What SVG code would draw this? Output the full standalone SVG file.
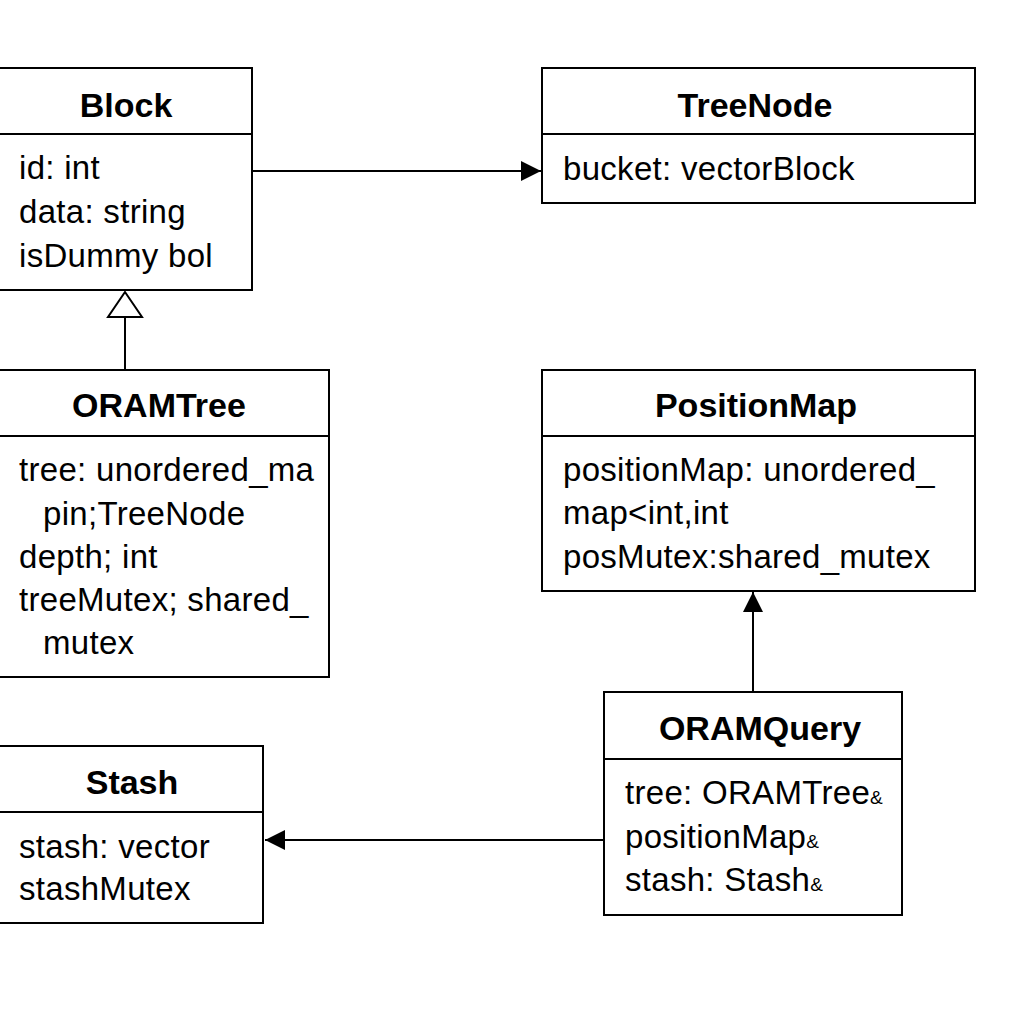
<svg xmlns="http://www.w3.org/2000/svg" width="1024" height="1024" viewBox="0 0 1024 1024">
<style>
.box{fill:#fff;stroke:#000;stroke-width:2}
.div{stroke:#000;stroke-width:2}
.title{font-family:"Liberation Sans",Arial,sans-serif;font-weight:bold;font-size:34px;text-anchor:middle;fill:#000}
.attr{font-family:"Liberation Sans",Arial,sans-serif;font-size:33px;letter-spacing:0.3px;fill:#000}
.amp{font-size:19px;letter-spacing:0}
.line{stroke:#000;stroke-width:2;fill:none}
</style>
<defs>
<marker id="filled" markerWidth="20" markerHeight="20" refX="20" refY="10" orient="auto" markerUnits="userSpaceOnUse">
<path d="M0,0 L20,10 L0,20 Z" fill="#000"/>
</marker>
</defs>
<rect width="1024" height="1024" fill="#fff"/>
<g id="connectors">
<line class="line" x1="253" y1="171" x2="541" y2="171" marker-end="url(#filled)"/>
<line class="line" x1="125" y1="370" x2="125" y2="317"/>
<path d="M125,292 L142,317 L108,317 Z" fill="#fff" stroke="#000" stroke-width="2"/>
<line class="line" x1="753" y1="691" x2="753" y2="592" marker-end="url(#filled)"/>
<line class="line" x1="604" y1="840" x2="265" y2="840" marker-end="url(#filled)"/>
</g>
<g id="Block">
<rect class="box" x="-2" y="68" width="254" height="222"/>
<line class="div" x1="-2" y1="134" x2="252" y2="134"/>
<text class="title" x="126" y="117">Block</text>
<text class="attr" x="19" y="179">id: int</text>
<text class="attr" x="19" y="223">data: string</text>
<text class="attr" x="19" y="267">isDummy bol</text>
</g>
<g id="TreeNode">
<rect class="box" x="542" y="68" width="433" height="135"/>
<line class="div" x1="542" y1="134" x2="975" y2="134"/>
<text class="title" x="755" y="117">TreeNode</text>
<text class="attr" x="563" y="180">bucket: vectorBlock</text>
</g>
<g id="ORAMTree">
<rect class="box" x="-2" y="370" width="331" height="307"/>
<line class="div" x1="-2" y1="436" x2="329" y2="436"/>
<text class="title" x="159" y="417">ORAMTree</text>
<text class="attr" x="19" y="481">tree: unordered_ma</text>
<text class="attr" x="43" y="525">pin;TreeNode</text>
<text class="attr" x="19" y="568">depth; int</text>
<text class="attr" x="19" y="611">treeMutex; shared_</text>
<text class="attr" x="43" y="654">mutex</text>
</g>
<g id="PositionMap">
<rect class="box" x="542" y="370" width="433" height="221"/>
<line class="div" x1="542" y1="436" x2="975" y2="436"/>
<text class="title" x="756" y="417">PositionMap</text>
<text class="attr" x="563" y="481">positionMap: unordered_</text>
<text class="attr" x="563" y="524">map&lt;int,int</text>
<text class="attr" x="563" y="568">posMutex:shared_mutex</text>
</g>
<g id="ORAMQuery">
<rect class="box" x="604" y="692" width="298" height="223"/>
<line class="div" x1="604" y1="759" x2="902" y2="759"/>
<text class="title" x="760" y="740">ORAMQuery</text>
<text class="attr" x="625" y="804">tree: ORAMTree<tspan class="amp">&amp;</tspan></text>
<text class="attr" x="625" y="848">positionMap<tspan class="amp">&amp;</tspan></text>
<text class="attr" x="625" y="891">stash: Stash<tspan class="amp">&amp;</tspan></text>
</g>
<g id="Stash">
<rect class="box" x="-2" y="746" width="265" height="177"/>
<line class="div" x1="-2" y1="812" x2="263" y2="812"/>
<text class="title" x="132" y="794">Stash</text>
<text class="attr" x="19" y="858">stash: vector</text>
<text class="attr" x="19" y="900">stashMutex</text>
</g>
</svg>
